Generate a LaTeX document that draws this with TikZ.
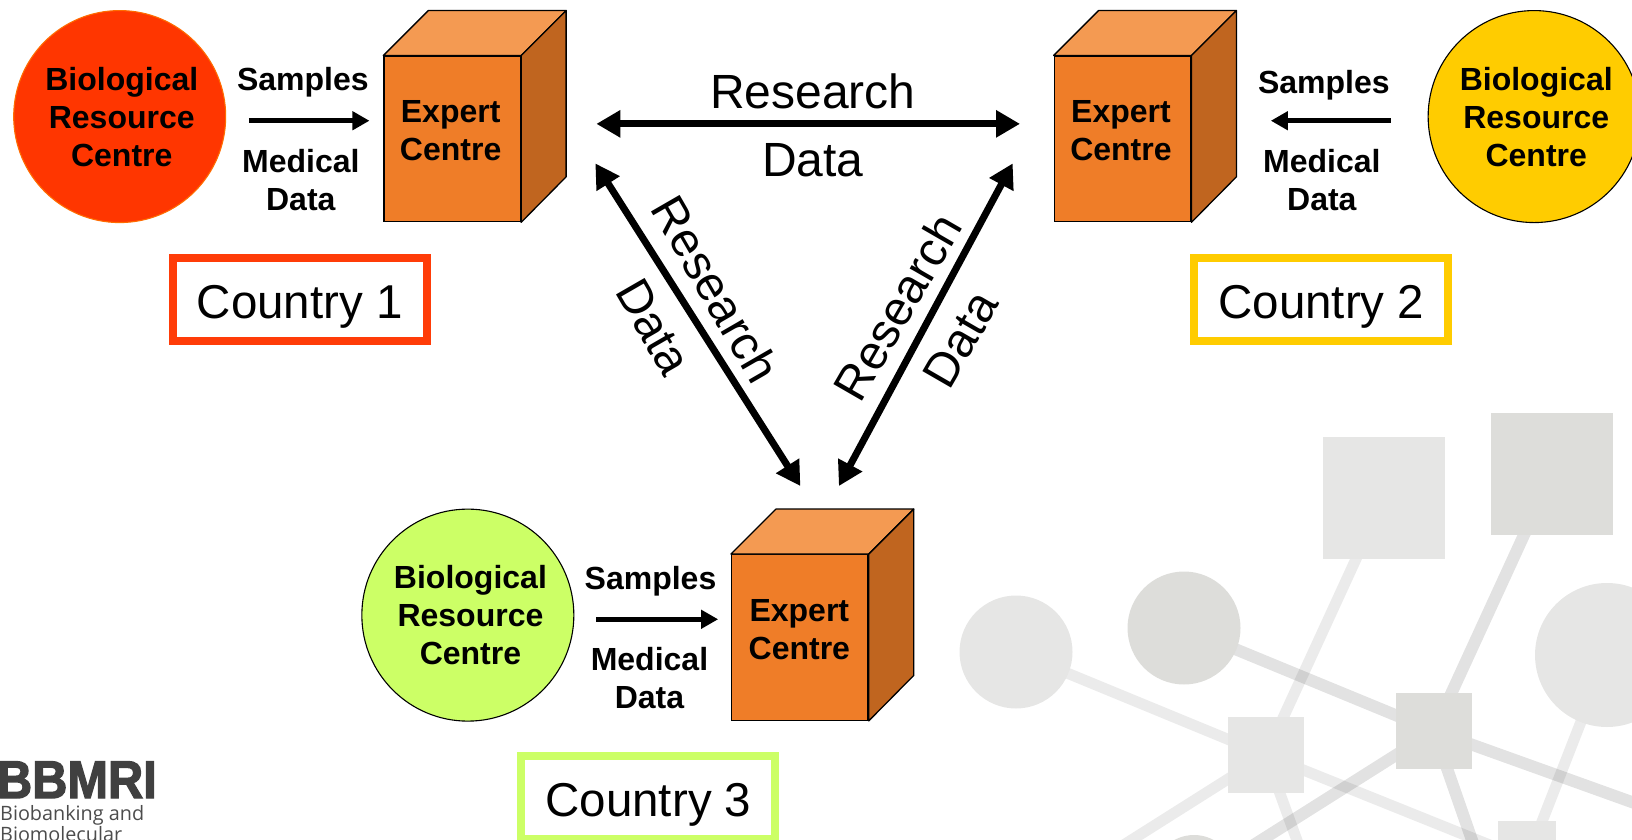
\documentclass[tikz,border=0pt]{standalone}
\usepackage{fontspec}
\setmainfont{Liberation Sans}
\newfontfamily\logofont{Open Sans}
\newfontfamily\logobold[FakeBold=2.5]{Liberation Sans Bold}
\usetikzlibrary{arrows.meta}
\definecolor{decolight}{HTML}{E6E6E5}
\definecolor{decodark}{HTML}{DDDDDA}
\definecolor{cubefront}{HTML}{EF7D28}
\definecolor{cubetop}{HTML}{F49A52}
\definecolor{cubeside}{HTML}{C0651F}
\definecolor{redc}{HTML}{FF3600}
\definecolor{yelc}{HTML}{FFCC00}
\definecolor{grnc}{HTML}{CCFF66}
\tikzset{
  decoL/.style={line width=11pt,black,opacity=0.08},
  decoD/.style={line width=12pt,black,opacity=0.115},
  sqL/.style={rectangle,fill=decolight,inner sep=0pt},
  sqD/.style={rectangle,fill=decodark,inner sep=0pt},
  ellL/.style={circle,fill=decolight,inner sep=0pt},
  ellD/.style={circle,fill=decodark,inner sep=0pt},
  biobank/.style={circle,minimum size=212pt,inner sep=0pt,draw=black,line width=1.1pt,align=center,font=\bfseries\fontsize{32}{38}\selectfont},
  smalltext/.style={align=center,inner sep=0pt,font=\bfseries\fontsize{32}{38}\selectfont},
  bigtext/.style={inner sep=0pt,font=\fontsize{48}{56}\selectfont},
  countrybox/.style={rectangle,line width=8pt,minimum width=254pt,minimum height=83pt,inner sep=0pt,text height=38pt,text depth=0pt,font=\fontsize{47.5}{54}\selectfont},
  front/.style={rectangle,draw=black,line width=1.3pt,fill=cubefront,minimum width=136.5pt,minimum height=165.5pt,inner sep=0pt},
  topface/.style={draw=black,line width=1.3pt,fill=cubetop,line join=round},
  sideface/.style={draw=black,line width=1.3pt,fill=cubeside,line join=round},
  thinarrow/.style={line width=5.5pt,-{Triangle[length=17pt,width=18pt]}},
  bigarrow/.style={line width=7pt,{Triangle[length=24pt,width=26pt]}-{Triangle[length=24pt,width=26pt]}},
}
% #1 name, #2 front centre
\newcommand{\mycube}[2]{%
  \node[front] (#1) at (#2) {};
  \path (#1.north west) ++(45pt,45pt) coordinate (#1tl);
  \path (#1.north east) ++(45pt,45pt) coordinate (#1tr);
  \path (#1.south east) ++(45pt,45.5pt) coordinate (#1br);
  \draw[topface] (#1.north west) -- (#1tl) -- (#1tr) -- (#1.north east) -- cycle;
  \draw[sideface] (#1.north east) -- (#1tr) -- (#1br) -- (#1.south east) -- cycle;
}
\begin{document}
\begin{tikzpicture}[x=1pt,y=-1pt]
\useasboundingbox (0,0) rectangle (1632,840);
\clip (0,0) rectangle (1632,840);
% decorative network (full-size pixel coordinates)
\coordinate (endA) at (1299,846);
\coordinate (endB) at (1474,846);
\coordinate (endD) at (1640,805);
\coordinate (endE) at (1122,846);
\coordinate (endF) at (1252,846);
\path
  (1016,652) coordinate (pc) (1184,628) coordinate (pd) (1607,655) coordinate (pe)
  (1384,498) coordinate (pa) (1552,474) coordinate (pb)
  (1266,755) coordinate (pf) (1434,731) coordinate (pg) (1527,860) coordinate (ph);
\draw[decoL] (pc) -- (pf);
\draw[decoL] (pf) -- (ph);
\draw[decoL] (pa) -- (pf);
\draw[decoL] (pf) -- (endA);
\draw[decoL] (pf) -- (endE);
\draw[decoL] (pe) -- (ph);
\draw[decoD] (pd) -- (pg);
\draw[decoD] (pg) -- (endD);
\draw[decoD] (pb) -- (pg);
\draw[decoD] (pg) -- (endB);
\draw[decoD] (pg) -- (endF);
\node[sqL,minimum width=122pt,minimum height=122pt] (decoA) at (pa) {};
\node[sqD,minimum width=122pt,minimum height=122pt] (decoB) at (pb) {};
\node[ellL,minimum size=113pt] (decoC) at (pc) {};
\node[ellD,minimum size=113pt] (decoD) at (pd) {};
\node[ellL,minimum size=144pt] (decoE) at (pe) {};
\node[sqL,minimum width=76pt,minimum height=76pt] (decoF) at (pf) {};
\node[sqD,minimum width=76pt,minimum height=76pt] (decoG) at (pg) {};
\node[sqL,minimum width=58pt,minimum height=78pt] (decoH) at (ph) {};
\node[ellD,minimum size=82pt] (decoI) at (1194,876) {};
% logo
\node[anchor=base east,inner sep=0pt,text=black!75,xscale=0.92,font=\logobold\fontsize{53}{53}\selectfont] (logoA) at (157,798) {BBMRI};
\node[anchor=base west,inner sep=0pt,text=black!70,font=\logofont\fontsize{19.8}{20}\selectfont] (logoB) at (0,820) {Biobanking and};
\node[anchor=base west,inner sep=0pt,text=black!70,font=\logofont\fontsize{19.8}{20}\selectfont] (logoC) at (0,841) {Biomolecular};
\begin{scope}[x=1.0408pt,y=-1.0408pt]
% circles
\node[biobank,fill=redc,draw=orange!85!red] (brc1) at (115,112) {};
\node[biobank,fill=yelc] (brc2) at (1474,112) {};
\node[biobank,fill=grnc] (brc3) at (449.5,591) {};
\node[smalltext] (brct1) at (117,112) {Biological\\Resource\\Centre};
\node[smalltext] (brct2) at (1476,112) {Biological\\Resource\\Centre};
\node[smalltext] (brct3) at (452,591) {Biological\\Resource\\Centre};
% cubes
\mycube{ec1}{434.5,133.5}
\mycube{ec2}{1078.5,133.5}
\mycube{ec3}{768.5,612.5}
\node[smalltext] (ect1) at (433,126) {Expert\\Centre};
\node[smalltext] (ect2) at (1077,126) {Expert\\Centre};
\node[smalltext] (ect3) at (768,605) {Expert\\Centre};
% sample labels
\node[smalltext] (s1) at (291,79) {Samples};
\node[smalltext] (s2) at (1272,82) {Samples};
\node[smalltext] (s3) at (625,558) {Samples};
\node[smalltext] (m1) at (289,173) {Medical\\Data};
\node[smalltext] (m2) at (1270,173) {Medical\\Data};
\node[smalltext] (m3) at (624,651) {Medical\\Data};
\coordinate (a1s) at (239,116); \coordinate (a1e) at (355,116);
\coordinate (a2s) at (1336,116); \coordinate (a2e) at (1221,116);
\coordinate (a3s) at (573,595); \coordinate (a3e) at (690,595);
\draw[thinarrow] (a1s) -- (a1e);
\draw[thinarrow] (a2s) -- (a2e);
\draw[thinarrow] (a3s) -- (a3e);
% research arrows
\coordinate (t1) at (573,119); \coordinate (t2) at (980,119);
\coordinate (l1) at (572,157); \coordinate (l2) at (769,467);
\coordinate (r1) at (973,157); \coordinate (r2) at (806,467);
\draw[bigarrow] (t1) -- (t2);
\draw[bigarrow] (l1) -- (l2);
\draw[bigarrow] (r1) -- (r2);
\node[bigtext] (rt) at (781,88) {Research};
\node[bigtext] (dt) at (781,154) {Data};
\node[bigtext,rotate=-60] (rl) at (688,278) {Research};
\node[bigtext,rotate=-60] (dl) at (628,314) {Data};
\node[bigtext,rotate=60] (rr) at (862,295) {Research};
\node[bigtext,rotate=60] (dr) at (923,326) {Data};
% country boxes
\node[countrybox,draw=redc!97!white] (c1) at (288,288) {Country 1};
\node[countrybox,draw=yelc] (c2) at (1269.5,288) {Country 2};
\node[countrybox,draw=grnc] (c3) at (623,766) {Country 3};
\end{scope}
\end{tikzpicture}
\end{document}
